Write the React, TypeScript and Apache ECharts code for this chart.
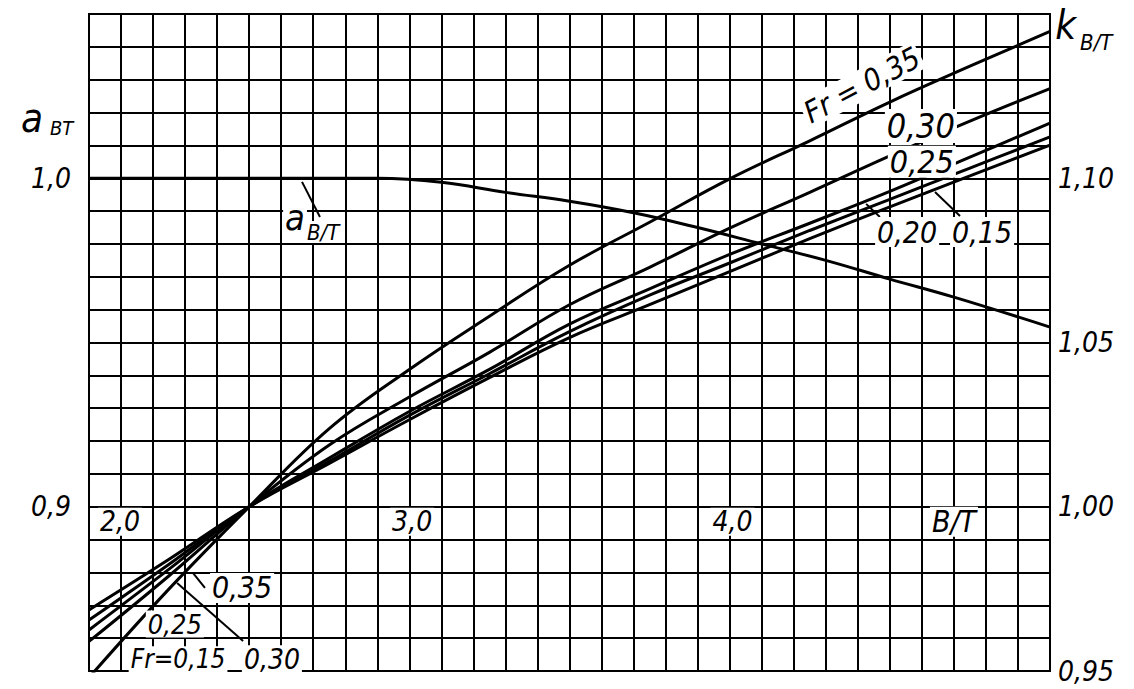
import React, { useEffect, useRef } from "react";
import * as echarts from "echarts";

// B/T values where the k-curves were read
const btK = [2.0, 2.25, 2.5, 2.75, 3.0, 3.25, 3.5, 3.75, 4.0, 4.25, 4.5, 4.75, 5.0];
// k_B/T for each Froude number (right axis)
const kFr035 = [0.948, 0.975, 1.0, 1.0238, 1.0418, 1.058, 1.0735, 1.0866, 1.0998, 1.1114, 1.1232, 1.1341, 1.1447];
const kFr030 = [0.959, 0.979, 1.0, 1.0188, 1.0334, 1.047, 1.0615, 1.0729, 1.0848, 1.0957, 1.1068, 1.1174, 1.1273];
const kFr025 = [0.9625, 0.981, 1.0, 1.0148, 1.029, 1.0418, 1.0556, 1.0663, 1.0768, 1.0863, 1.096, 1.1064, 1.1168];
const kFr020 = [0.9655, 0.9825, 1.0, 1.0138, 1.0278, 1.0405, 1.0533, 1.0644, 1.0742, 1.0841, 1.0936, 1.1031, 1.1126];
const kFr015 = [0.9686, 0.984, 1.0, 1.0132, 1.0265, 1.0393, 1.0515, 1.0615, 1.0716, 1.0816, 1.0913, 1.1007, 1.1101];

// a_B/T curve (left axis)
const btA = [2.0, 2.5, 2.9, 3.1, 3.3, 3.5, 3.7, 3.9, 4.1, 4.3, 4.5, 4.7, 5.0];
const aVal = [1.0, 1.0, 1.0, 0.9988, 0.9957, 0.993, 0.9895, 0.985, 0.98, 0.975, 0.9693, 0.9638, 0.9547];

// tick labels
const leftTickValues = [0.9, 1.0];
const leftTickLabels = ["0,9", "1,0"];
const rightTickValues = [0.95, 1.0, 1.05, 1.1];
const rightTickLabels = ["0,95", "1,00", "1,05", "1,10"];
const xTickValues = [2.0, 3.0, 4.0];
const xTickLabels = ["2,0", "3,0", "4,0"];

const FAM = '"Liberation Sans Narrow", "DejaVu Sans Condensed", "Liberation Sans", sans-serif';

function zip(xs: number[], ys: number[]) {
  return xs.map((x, i) => [x, ys[i]]);
}

export default function App() {
  const ref = useRef<HTMLDivElement>(null);
  useEffect(() => {
    document.body.style.margin = "0";
    const chart = echarts.init(ref.current!, undefined, { renderer: "svg" });
    const lineStyle = { color: "#000", width: 3 };
    const kSeries = [
      ["Fr=0,35", kFr035],
      ["Fr=0,30", kFr030],
      ["Fr=0,25", kFr025],
      ["Fr=0,20", kFr020],
      ["Fr=0,15", kFr015],
    ].map(([name, vals]) => ({
      name: name as string,
      type: "line",
      yAxisIndex: 1,
      smooth: 0.4,
      showSymbol: false,
      clip: true,
      lineStyle,
      data: zip(btK, vals as number[]),
    }));
    chart.setOption({
      animation: false,
      backgroundColor: "#fff",
      grid: { left: 89, right: 84, top: 14, bottom: 18, show: true, borderColor: "#000", borderWidth: 2 },
      xAxis: {
        type: "value",
        min: 2,
        max: 5,
        interval: 0.1,
        axisLabel: { show: false },
        axisTick: { show: false },
        axisLine: { show: true, lineStyle: { color: "#000", width: 2 } },
        splitLine: { show: true, lineStyle: { color: "#000", width: 2 } },
      },
      yAxis: [
        {
          type: "value",
          min: 0.85,
          max: 1.05,
          interval: 0.01,
          axisTick: { show: false },
          axisLine: { show: true, lineStyle: { color: "#000", width: 2 } },
          splitLine: { show: true, lineStyle: { color: "#000", width: 2 } },
          axisLabel: {
            margin: 18,
            color: "#000",
            fontSize: 28,
            fontStyle: "italic",
            fontFamily: FAM,
            formatter: (v: number) => {
              const i = leftTickValues.findIndex((t) => Math.abs(t - v) < 1e-6);
              return i >= 0 ? leftTickLabels[i] : "";
            },
          },
        },
        {
          type: "value",
          position: "right",
          min: 0.95,
          max: 1.15,
          interval: 0.01,
          axisTick: { show: false },
          axisLine: { show: true, lineStyle: { color: "#000", width: 2 } },
          splitLine: { show: false },
          axisLabel: {
            margin: 8,
            color: "#000",
            fontSize: 28,
            fontStyle: "italic",
            fontFamily: FAM,
            formatter: (v: number) => {
              const i = rightTickValues.findIndex((t) => Math.abs(t - v) < 1e-6);
              return i >= 0 ? rightTickLabels[i] : "";
            },
          },
        },
      ],
      series: [
        {
          name: "a_B/T",
          type: "line",
          yAxisIndex: 0,
          smooth: 0.4,
          showSymbol: false,
          lineStyle,
          data: zip(btA, aVal),
        },
        ...kSeries,
      ],
    });

    const pK = (x: number, k: number) => chart.convertToPixel({ xAxisIndex: 0, yAxisIndex: 1 }, [x, k]) as number[];
    const pA = (x: number, a: number) => chart.convertToPixel({ xAxisIndex: 0, yAxisIndex: 0 }, [x, a]) as number[];

    const txt = (p: number[], text: string, size: number, opts: any = {}) => ({
      type: "text",
      x: p[0],
      y: p[1],
      z: 100,
      rotation: opts.rotation || 0,
      style: {
        text,
        fill: "#000",
        fontSize: size,
        fontStyle: "italic",
        fontFamily: FAM,
        align: opts.align || "center",
        verticalAlign: "middle",
        backgroundColor: opts.bg ? "#fff" : undefined,
        padding: opts.bg ? [0, 2, 0, 2] : undefined,
      },
    });
    const leader = (p1: number[], p2: number[]) => ({
      type: "line",
      z: 100,
      shape: { x1: p1[0], y1: p1[1], x2: p2[0], y2: p2[1] },
      style: { stroke: "#000", lineWidth: 2 },
    });

    const graphic: any[] = [];
    // x tick labels inside the grid
    xTickValues.forEach((v, i) => {
      graphic.push(txt(pK(v + 0.028 + (i > 0 ? -0.088 : 0), 0.9954), xTickLabels[i], 28, { align: "left", bg: true }));
    });
    graphic.push(txt(pK(4.625, 0.9954), "B/T", 30, { align: "left", bg: true }));
    // axis titles
    graphic.push(txt(pA(1.788, 1.0183), "a", 40, { align: "left" }));
    graphic.push(txt(pA(1.878, 1.0153), "BT", 20, { align: "left" }));
    graphic.push(txt(pK(5.016, 1.1467), "k", 40, { align: "left" }));
    graphic.push(txt(pK(5.094, 1.1412), "B/T", 22, { align: "left" }));
    // a_B/T curve label
    graphic.push(leader(pA(2.665, 0.9989), pA(2.721, 0.9882)));
    graphic.push(txt(pA(2.606, 0.988), "a", 36, { align: "left", bg: true }));
    graphic.push(txt(pA(2.674, 0.9836), "B/T", 22, { align: "left", bg: true }));
    // upper-right Fr labels
    graphic.push(txt(pK(4.413, 1.1284), "Fr = 0,35", 30, { rotation: (28 * Math.PI) / 180, bg: true }));
    graphic.push(txt(pK(4.597, 1.1159), "0,30", 34, { bg: true }));
    graphic.push(txt(pK(4.6, 1.105), "0,25", 32, { bg: true }));
    graphic.push(leader(pK(4.469, 1.0882), pK(4.426, 1.0922)));
    graphic.push(txt(pK(4.554, 1.0836), "0,20", 30, { bg: true }));
    graphic.push(leader(pK(4.719, 1.0885), pK(4.641, 1.0958)));
    graphic.push(txt(pK(4.788, 1.0836), "0,15", 30, { bg: true }));
    // lower-left Fr labels
    graphic.push(leader(pK(2.362, 0.9753), pK(2.325, 0.9798)));
    graphic.push(txt(pK(2.478, 0.9753), "0,35", 30, { bg: true }));
    graphic.push(txt(pK(2.268, 0.9643), "0,25", 27, { bg: true }));
    graphic.push(leader(pK(2.481, 0.9591), pK(2.275, 0.9768)));
    graphic.push(txt(pK(2.278, 0.9536), "Fr=0,15", 26, { bg: true }));
    graphic.push(txt(pK(2.571, 0.9536), "0,30", 28, { bg: true }));

    chart.setOption({ graphic });
    return () => chart.dispose();
  }, []);
  return <div ref={ref} style={{ position: "fixed", left: 0, top: 0, width: 1134, height: 689 }} />;
}
